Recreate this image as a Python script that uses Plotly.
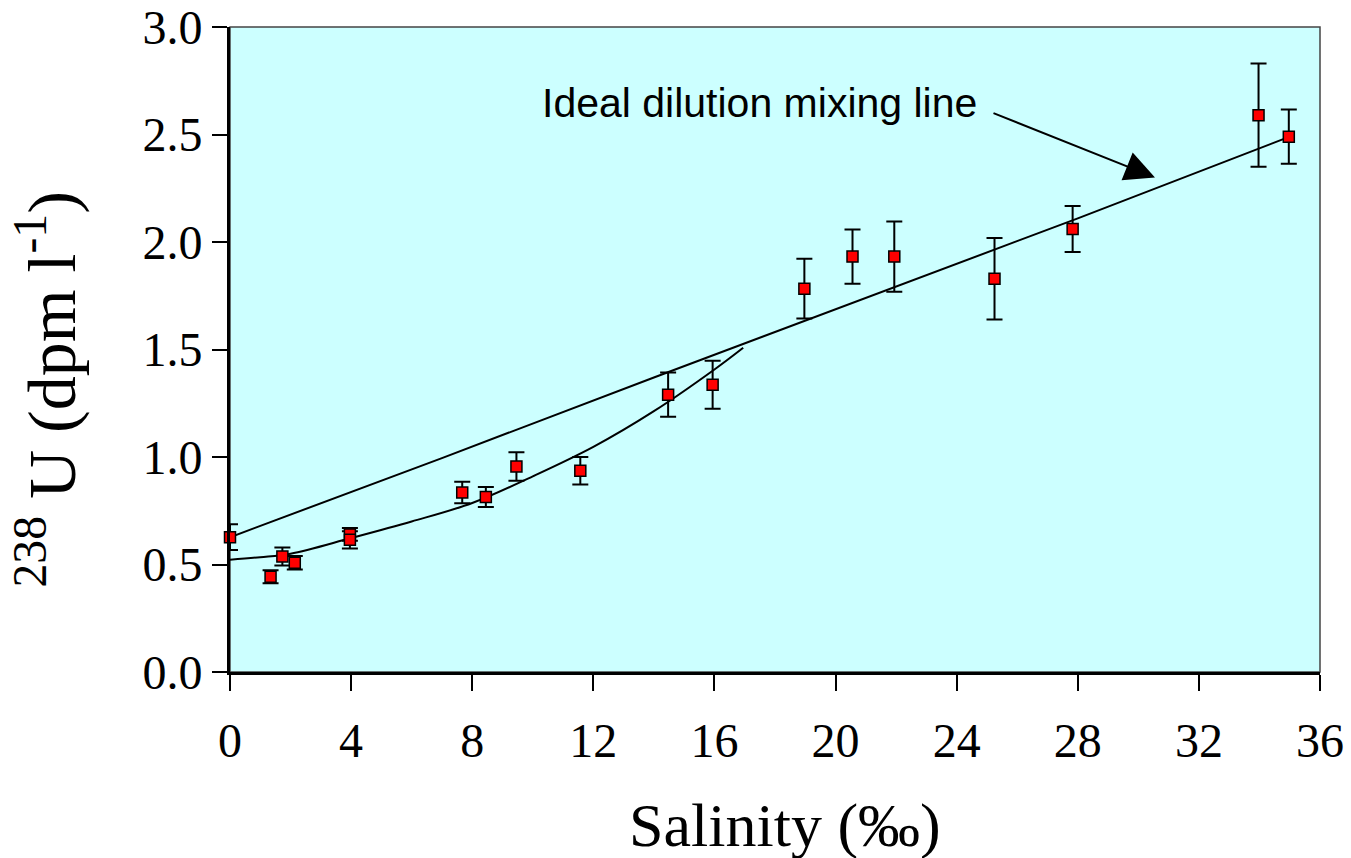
import plotly.graph_objects as go

# Observed data (salinity, 238U activity, 1-sigma error)
salinity = [0, 1.34, 1.73, 2.14, 3.96, 3.96, 7.67, 8.45, 9.46, 11.57, 14.47, 15.94,
            18.97, 20.56, 21.94, 25.25, 27.83, 33.97, 34.97]
u238 = [0.627, 0.443, 0.537, 0.508, 0.64, 0.615, 0.835, 0.814, 0.956, 0.936, 1.29, 1.336,
        1.783, 1.932, 1.932, 1.829, 2.06, 2.59, 2.49]
u238_err = [0.06, 0.03, 0.042, 0.031, 0.03, 0.04, 0.05, 0.047, 0.066, 0.064, 0.103, 0.112,
            0.139, 0.126, 0.163, 0.19, 0.107, 0.24, 0.126]

# Ideal dilution mixing line
ideal_s = [0, 7, 14, 21, 28, 35]
ideal_u = [0.627, 0.995, 1.37, 1.74, 2.11, 2.49]

# Low-salinity fitted curve
fit_s = [0, 1, 2, 4, 6, 8, 10, 12, 14, 16, 16.95]
fit_u = [0.522, 0.534, 0.55, 0.623, 0.70, 0.786, 0.91, 1.047, 1.213, 1.407, 1.508]

x_ticks = [0, 4, 8, 12, 16, 20, 24, 28, 32, 36]
y_ticks = [0.0, 0.5, 1.0, 1.5, 2.0, 2.5, 3.0]

SERIF = "Liberation Serif, Times New Roman, serif"
SANS = "Liberation Sans, Arial, sans-serif"

fig = go.Figure()
fig.add_trace(go.Scatter(x=ideal_s, y=ideal_u, mode="lines",
                         line=dict(color="black", width=2), showlegend=False))
fig.add_trace(go.Scatter(x=fit_s, y=fit_u, mode="lines", line_shape="spline",
                         line=dict(color="black", width=2), showlegend=False))
fig.add_trace(go.Scatter(
    x=salinity, y=u238, mode="markers",
    marker=dict(symbol="square", size=11, color="#FF0000",
                line=dict(color="black", width=1.5)),
    error_y=dict(type="data", array=u238_err, visible=True,
                 color="black", thickness=2, width=8),
    cliponaxis=False, showlegend=False))

fig.update_xaxes(range=[0, 36], tickvals=x_ticks, ticks="outside", ticklen=16,
                 tickwidth=1.5, tickcolor="black", showgrid=False, zeroline=False,
                 showline=True, linecolor="black", linewidth=3, automargin=False,
                 ticklabelstandoff=8,
                 tickfont=dict(family=SERIF, size=48, color="black"))
fig.update_yaxes(range=[0, 3], tickvals=y_ticks, tickformat=".1f", ticks="outside",
                 ticklen=15, tickwidth=1.5, tickcolor="black", showgrid=False,
                 zeroline=False, showline=True, linecolor="black", linewidth=3,
                 automargin=False,
                 tickfont=dict(family=SERIF, size=48, color="black"))

fig.add_shape(type="rect", xref="paper", yref="paper", x0=0, y0=0, x1=1, y1=1,
              line=dict(color="#444444", width=1.5), layer="below")

fig.add_annotation(x=17.5, y=2.646, xref="x", yref="y", text="Ideal dilution mixing line",
                   showarrow=False, font=dict(family=SANS, size=41, color="black"))
fig.add_annotation(x=30.55, y=2.30, xref="x", yref="y", text="", showarrow=True,
                   ax=-163, ay=-65, arrowhead=2, arrowsize=3, arrowwidth=2,
                   arrowcolor="black")

fig.add_annotation(x=-0.167, y=0.438, xref="paper", yref="paper",
                   xanchor="center", yanchor="middle",
                   text="<sup>238</sup> U (dpm l<sup>-1</sup>)", textangle=-90,
                   showarrow=False, font=dict(family=SERIF, size=68, color="black"))
fig.add_annotation(x=0.509, y=-0.2376, xref="paper", yref="paper",
                   xanchor="center", yanchor="middle",
                   text="Salinity (‰)", showarrow=False,
                   font=dict(family=SERIF, size=62, color="black"))

fig.update_layout(width=1351, height=858, autosize=False,
                  margin=dict(l=230, r=31, t=27, b=186),
                  plot_bgcolor="#CCFFFF", paper_bgcolor="white")

fig.write_html("out.html")
